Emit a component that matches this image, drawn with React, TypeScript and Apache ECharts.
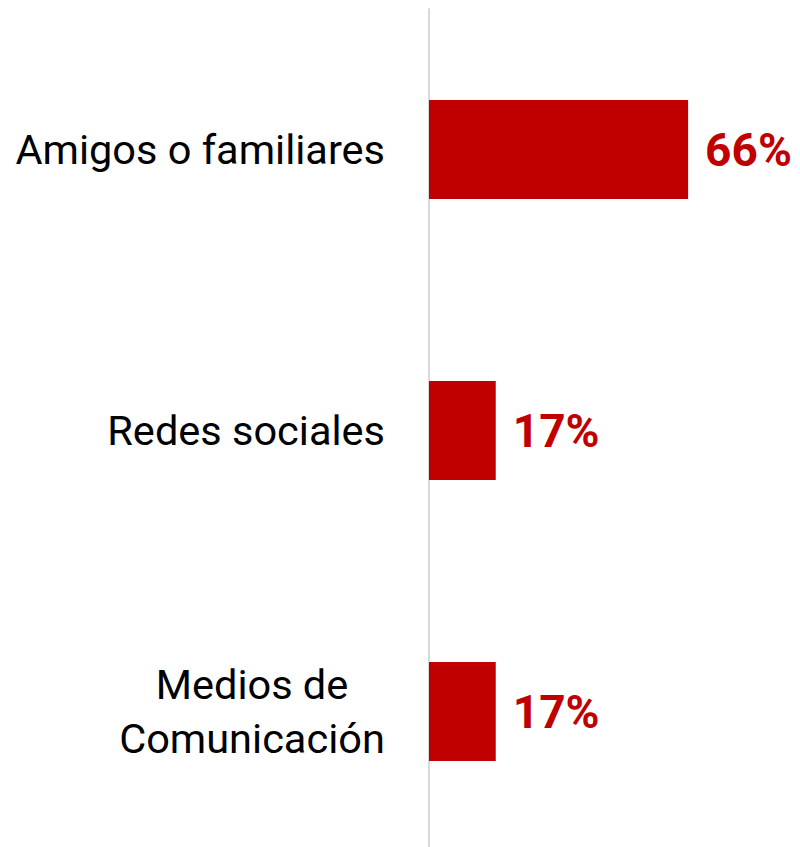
import React, { useEffect, useRef } from "react";
import * as echarts from "echarts";

const categories = ["Amigos o familiares", "Redes sociales", "Medios de\nComunicación"];
const values = [66, 17, 17];
const FONT = "Roboto";
const CAT_SIZE = 41.5;

function measure(text: string, font: string): number {
  const c = document.createElement("canvas").getContext("2d");
  if (!c) return text.length * 20;
  c.font = font;
  return c.measureText(text).width;
}

export default function App() {
  const ref = useRef<HTMLDivElement>(null);
  useEffect(() => {
    document.body.style.margin = "0";
    const chart = echarts.init(ref.current!, null, { renderer: "svg" });
    const multiW = Math.max(
      ...categories
        .filter((c) => c.includes("\n"))
        .flatMap((c) => c.split("\n"))
        .map((l) => measure(l, `${CAT_SIZE}px ${FONT}`))
    );
    chart.setOption({
      animation: false,
      grid: { left: 429, right: 0, top: 9, bottom: 0, containLabel: false },
      xAxis: {
        type: "value",
        min: 0,
        max: 94.5,
        show: false,
      },
      yAxis: {
        type: "category",
        data: categories,
        inverse: true,
        axisLine: { show: true, lineStyle: { color: "#d9d9d9", width: 2 } },
        axisTick: { show: false },
        splitLine: { show: false },
        axisLabel: {
          margin: 44,
          color: "#000",
          fontFamily: FONT,
          fontSize: CAT_SIZE,
          lineHeight: 54,
          formatter: (v: string) =>
            v.includes("\n")
              ? v.split("\n").map((l) => `{m|${l}}`).join("\n")
              : v,
          rich: {
            m: {
              width: Math.ceil(multiW),
              align: "center",
              color: "#000",
              fontFamily: FONT,
              fontSize: CAT_SIZE,
              lineHeight: 54,
            },
          },
        },
      },
      series: [
        {
          type: "bar",
          data: values,
          barWidth: 99,
          itemStyle: { color: "#c00000" },
          label: {
            show: true,
            position: "right",
            distance: 17,
            formatter: "{c}%",
            color: "#c00000",
            fontFamily: FONT,
            fontWeight: "bold",
            fontSize: 46,
          },
        },
      ],
    });
    return () => chart.dispose();
  }, []);
  return <div ref={ref} style={{ width: 800, height: 852 }} />;
}
